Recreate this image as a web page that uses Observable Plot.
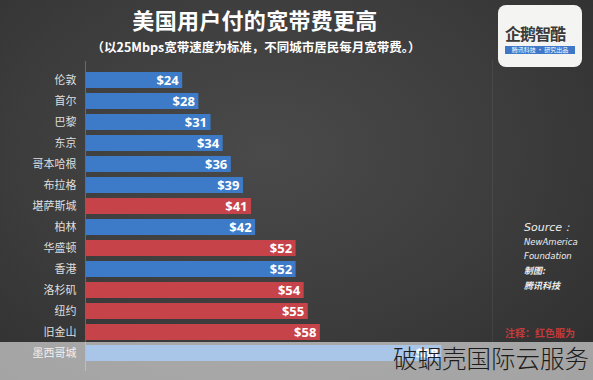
<!DOCTYPE html>
<html><head><meta charset="utf-8">
<script src="https://cdn.jsdelivr.net/npm/d3@7"></script>
<script src="https://cdn.jsdelivr.net/npm/@observablehq/plot@0.6"></script>
<style>
html,body{margin:0;padding:0;}
body{width:593px;height:380px;overflow:hidden;position:relative;
 background:radial-gradient(ellipse at 45% 40%, #4a4a4a 0%, #3c3c3c 55%, #2e2e2e 100%);
 font-family:"Noto Sans CJK SC","Noto Sans",sans-serif;}
#chart{position:absolute;left:0;top:0;}
.abs{position:absolute;white-space:nowrap;}
#title{left:0;width:510px;top:3px;text-align:center;color:#fff;font-size:22px;font-weight:bold;letter-spacing:0.3px;}
#sub{left:0;width:512px;top:37px;text-align:center;color:#fff;font-size:12.5px;font-weight:bold;}
#logo{left:498px;top:5px;width:84px;height:62px;background:#f4f4f2;border-radius:8px;}
#logo .t{position:absolute;left:7px;top:16px;font-size:16px;color:#3a3a3a;font-weight:bold;letter-spacing:-1px;}
#logo .b{position:absolute;left:7px;top:41px;width:70px;height:8px;background:#3f78c9;color:#fff;font-size:6px;line-height:8px;text-align:center;}
#src{left:524px;top:221px;color:#eee;font-style:italic;font-family:"DejaVu Sans",sans-serif;}
#note{left:505px;top:325px;color:#c43a3a;font-size:10px;font-weight:bold;}
#wm{left:0;top:342px;width:593px;height:38px;background:rgba(255,255,255,0.56);}
#wmt{right:4px;top:340px;font-size:24.5px;color:#1c1c1c;font-weight:300;}
#sep{left:492px;top:60px;width:1px;height:282px;background:rgba(255,255,255,0.06);}
</style></head>
<body>
<div id="chart"></div>
<div class="abs" id="sep"></div>
<div class="abs" id="title">美国用户付的宽带费更高</div>
<div class="abs" id="sub">（以25Mbps宽带速度为标准，不同城市居民每月宽带费。）</div>
<div class="abs" id="logo"><div class="t">企鹅智酷</div><div class="b">腾讯科技 · 研究出品</div></div>
<div class="abs" id="src">
 <div style="font-size:11px;line-height:14px;">Source：</div>
 <div style="font-size:8.5px;line-height:14px;">NewAmerica</div>
 <div style="font-size:8.5px;line-height:14px;">Foundation</div>
 <div style="font-size:9px;line-height:15px;font-weight:bold;font-family:'Noto Sans CJK SC';">制图:</div>
 <div style="font-size:9px;line-height:15px;font-weight:bold;font-family:'Noto Sans CJK SC';">腾讯科技</div>
</div>
<div class="abs" id="note">注释：红色服为</div>
<div class="abs" id="wm"></div>
<div class="abs" id="wmt">破蜗壳国际云服务</div>
<script>
const cities = ["伦敦","首尔","巴黎","东京","哥本哈根","布拉格","堪萨斯城","柏林","华盛顿","香港","洛杉矶","纽约","旧金山","墨西哥城"];
const prices = [24,28,31,34,36,39,41,42,52,52,54,55,58,88];
const isUS = [false,false,false,false,false,false,true,false,true,false,true,true,true,false];

const data = cities.map((c,i)=>({city:c, price:prices[i], us:isUS[i]}));

const plot = Plot.plot({
  width:593, height:380,
  marginLeft:85, marginRight:22, marginTop:61, marginBottom:9,
  style:{background:"transparent", fontFamily:"'Noto Sans CJK SC', sans-serif"},
  x:{domain:[0,120], axis:null},
  y:{domain:cities, padding:0.24, label:null, tickSize:0, tickPadding:9},
  color:{domain:[true,false], range:["#c7434a","#3d7bc8"]},
  marks:[
    Plot.barX(data,{y:"city", x:"price", fill:d=>d.us}),
    Plot.text(data,{y:"city", x:"price", text:d=>"$"+d.price, textAnchor:"end", dx:-4,
      fill:"#fff", fontSize:13, fontWeight:"bold", fontFamily:"'Open Sans', sans-serif"}),
    Plot.ruleX([0],{stroke:"#6a6a6a", strokeWidth:1}),
    Plot.axisY({tickSize:0, tickPadding:9, fontSize:11, fill:"#dedede", label:null})
  ]
});
document.getElementById("chart").appendChild(plot);
</script>
</body></html>
